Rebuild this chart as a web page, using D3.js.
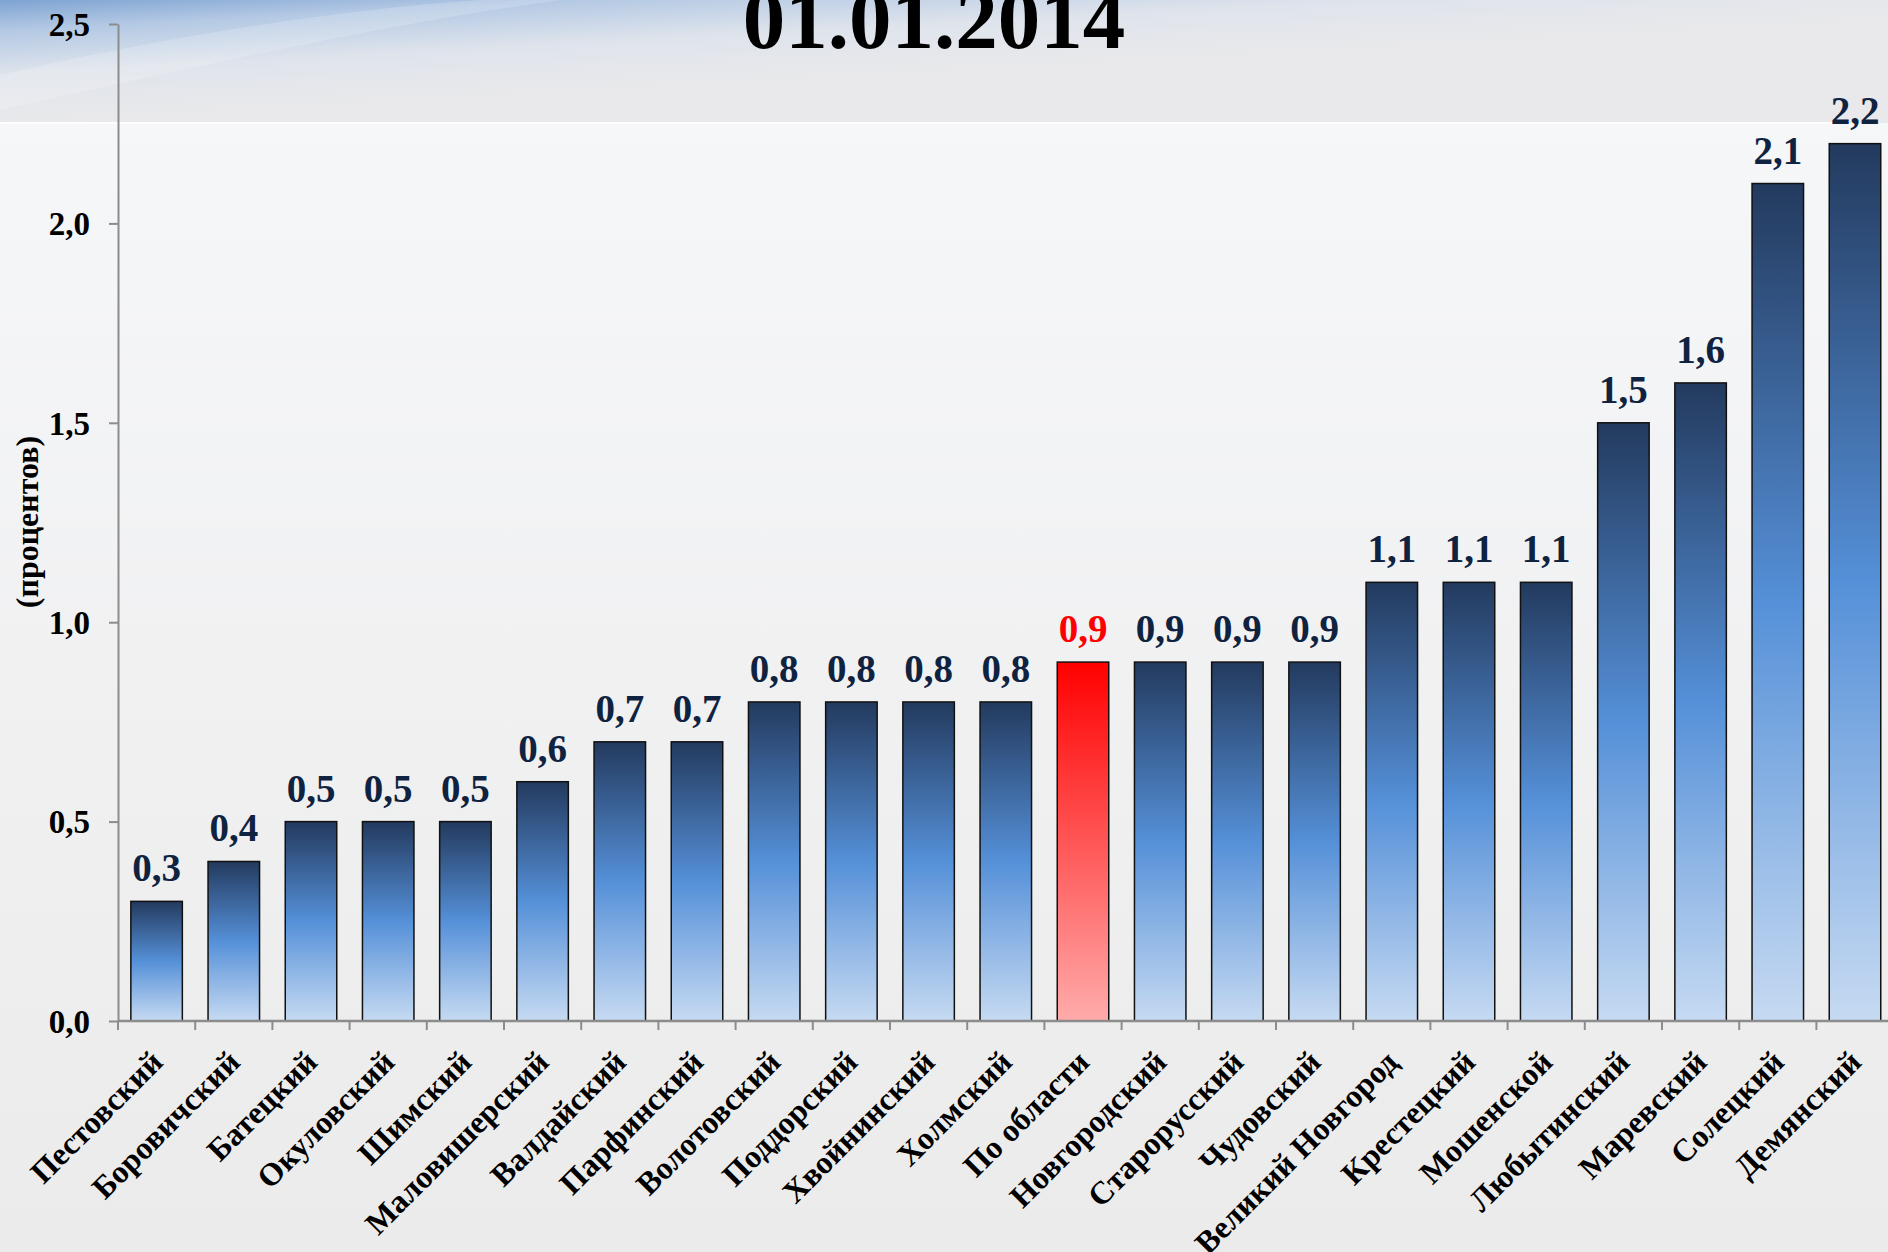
<!DOCTYPE html>
<html>
<head>
  <meta charset="utf-8">
  <script src="https://d3js.org/d3.v7.min.js"></script>
  <style>
    body { margin: 0; background: #ececec; }
    svg { display: block; }
    text { font-family: "Liberation Serif", "Times New Roman", serif; font-weight: bold; }
  </style>
</head>
<body>
<svg id="chart" width="1888" height="1252"></svg>
<script>
  // districts, sorted as on the slide
  const districts = [
    "Пестовский", "Боровичский", "Батецкий", "Окуловский", "Шимский",
    "Маловишерский", "Валдайский", "Парфинский", "Волотовский", "Поддорский",
    "Хвойнинский", "Холмский", "По области", "Новгородский", "Старорусский",
    "Чудовский", "Великий Новгород", "Крестецкий", "Мошенской", "Любытинский",
    "Маревский", "Солецкий", "Демянский"
  ];
  const values = [
    0.3, 0.4, 0.5, 0.5, 0.5,
    0.6, 0.7, 0.7, 0.8, 0.8,
    0.8, 0.8, 0.9, 0.9, 0.9,
    0.9, 1.1, 1.1, 1.1, 1.5,
    1.6, 2.1, 2.2
  ];
  const yTicks = [0, 0.5, 1.0, 1.5, 2.0, 2.5];
  const highlight = "По области";
  const title = "01.01.2014";
  const yTitle = "(процентов)";

  const data = districts.map((d, i) => ({ name: d, value: values[i] }));
  const comma = d => d3.format(".1f")(d).replace(".", ",");

  const W = 1888, H = 1252;
  const svg = d3.select("#chart");
  const defs = svg.append("defs");

  // background pieces
  const bgMain = defs.append("linearGradient").attr("id", "bgMain")
    .attr("x1", 0).attr("y1", 0).attr("x2", 0).attr("y2", 1);
  bgMain.append("stop").attr("offset", 0).attr("stop-color", "#f7f8fa");
  bgMain.append("stop").attr("offset", 1).attr("stop-color", "#ebebeb");

  const bgTop = defs.append("linearGradient").attr("id", "bgTop")
    .attr("x1", 0).attr("y1", 0).attr("x2", 0.5).attr("y2", 0.6);
  bgTop.append("stop").attr("offset", 0).attr("stop-color", "#7ea3d2");
  bgTop.append("stop").attr("offset", 0.25).attr("stop-color", "#b4c9e4");
  bgTop.append("stop").attr("offset", 0.6).attr("stop-color", "#dfe4ec");
  bgTop.append("stop").attr("offset", 1).attr("stop-color", "#e9e9eb");

  svg.append("rect").attr("width", W).attr("height", H).attr("fill", "url(#bgMain)");
  svg.append("rect").attr("width", W).attr("height", 123).attr("fill", "url(#bgTop)");
  svg.append("path")
    .attr("d", "M0,75 C150,40 330,10 480,0 L560,0 C380,25 180,70 0,110 Z")
    .attr("fill", "#ffffff").attr("opacity", 0.18);
  svg.append("line").attr("x1", 0).attr("x2", 1840).attr("y1", 123).attr("y2", 123)
    .attr("stroke", "#ffffff").attr("stroke-width", 2).attr("opacity", 0.9);

  // bar gradients
  const gBlue = defs.append("linearGradient").attr("id", "gBlue")
    .attr("x1", 0).attr("y1", 0).attr("x2", 0).attr("y2", 1);
  gBlue.append("stop").attr("offset", 0).attr("stop-color", "#233a5e");
  gBlue.append("stop").attr("offset", 0.5).attr("stop-color", "#5590d8");
  gBlue.append("stop").attr("offset", 1).attr("stop-color", "#c6daf2");

  const gRed = defs.append("linearGradient").attr("id", "gRed")
    .attr("x1", 0).attr("y1", 0).attr("x2", 0).attr("y2", 1);
  gRed.append("stop").attr("offset", 0).attr("stop-color", "#ff0000");
  gRed.append("stop").attr("offset", 1).attr("stop-color", "#ffabab");

  // scales
  const x0 = 118, step = 77.2;
  const x = d3.scaleBand()
    .domain(districts)
    .range([x0, x0 + step * districts.length])
    .paddingInner(0.333)
    .paddingOuter(0.1665);
  const y = d3.scaleLinear().domain([0, 2.5]).range([1021, 24]);

  // y axis
  const yAxis = svg.append("g")
    .attr("transform", `translate(${x0},0)`)
    .call(d3.axisLeft(y).tickValues(yTicks).tickFormat(comma).tickSize(9).tickSizeOuter(0).tickPadding(19));
  yAxis.select(".domain").attr("stroke", "#8c8c8c").attr("stroke-width", 2);
  yAxis.selectAll(".tick line").attr("stroke", "#8c8c8c").attr("stroke-width", 2);
  yAxis.selectAll(".tick text")
    .attr("font-size", 33).attr("fill", "#000").attr("dy", "0.34em");
  yAxis.attr("font-family", null).attr("font-size", null);

  // bars
  svg.append("g").selectAll("rect")
    .data(data)
    .join("rect")
    .attr("x", d => x(d.name))
    .attr("y", d => y(d.value))
    .attr("width", x.bandwidth())
    .attr("height", d => y(0) - y(d.value))
    .attr("fill", d => d.name === highlight ? "url(#gRed)" : "url(#gBlue)")
    .attr("stroke", "#111")
    .attr("stroke-width", 1.5);

  // x axis line and ticks at band boundaries
  const xr = x.range();
  svg.append("line")
    .attr("x1", xr[0]).attr("x2", xr[1])
    .attr("y1", y(0)).attr("y2", y(0))
    .attr("stroke", "#8c8c8c").attr("stroke-width", 2.5);
  svg.append("g").selectAll("line")
    .data(d3.range(districts.length + 1))
    .join("line")
    .attr("x1", i => xr[0] + i * x.step())
    .attr("x2", i => xr[0] + i * x.step())
    .attr("y1", y(0)).attr("y2", y(0) + 9)
    .attr("stroke", "#8c8c8c").attr("stroke-width", 2);

  // category labels
  svg.append("g").selectAll("text")
    .data(data)
    .join("text")
    .attr("transform", d => `translate(${x(d.name) + x.bandwidth() / 2 + 8},${y(0) + 43}) rotate(-45)`)
    .attr("text-anchor", "end")
    .attr("font-size", 32)
    .attr("fill", "#000")
    .text(d => d.name);

  // value labels
  svg.append("g").selectAll("text")
    .data(data)
    .join("text")
    .attr("x", d => x(d.name) + x.bandwidth() / 2)
    .attr("y", d => y(d.value) - 20)
    .attr("text-anchor", "middle")
    .attr("font-size", 39)
    .attr("fill", d => d.name === highlight ? "#ff0000" : "#0f2341")
    .text(d => comma(d.value));

  // titles
  svg.append("text")
    .attr("x", 934).attr("y", 48)
    .attr("text-anchor", "middle")
    .attr("font-size", 85)
    .attr("fill", "#000")
    .text(title);

  svg.append("text")
    .attr("transform", "translate(38,522) rotate(-90)")
    .attr("text-anchor", "middle")
    .attr("font-size", 32)
    .attr("fill", "#000")
    .text(yTitle);
</script>
</body>
</html>
